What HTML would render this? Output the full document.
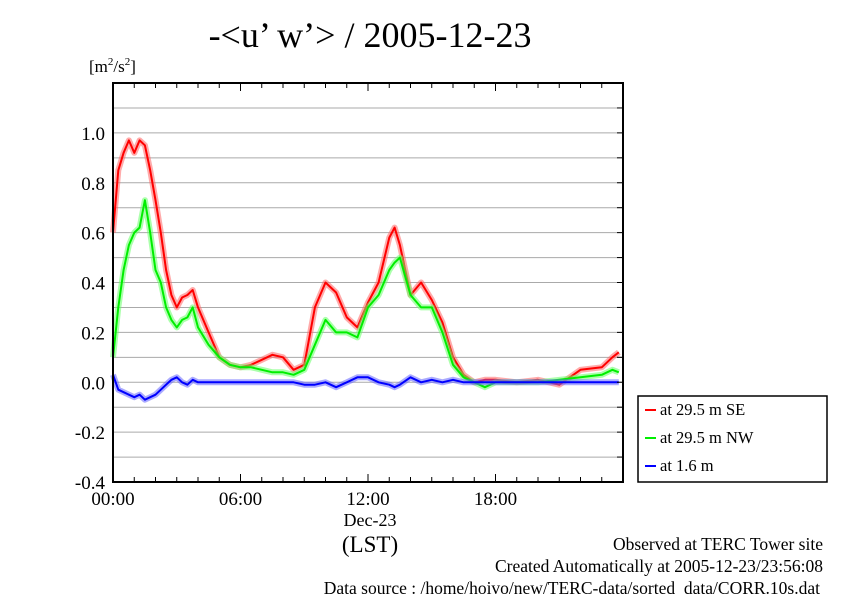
<!DOCTYPE html>
<html><head><meta charset="utf-8"><style>
body{margin:0;background:#fff;}
svg{display:block;font-family:"Liberation Serif",serif;}
</style></head><body>
<svg id="chart" width="842" height="595" viewBox="0 0 842 595">
<text x="370" y="47" font-size="36" text-anchor="middle">-&lt;u’ w’&gt; / 2005-12-23</text>
<text x="89" y="72" font-size="17">[m<tspan font-size="11" dy="-7">2</tspan><tspan dy="7">/s</tspan><tspan font-size="11" dy="-7">2</tspan><tspan dy="7">]</tspan></text>
<g id="grid"></g>
<g id="series"></g>
<g id="axes"></g>
<g>
<rect x="638" y="396" width="189" height="86" fill="#fff" stroke="#000" stroke-width="1.5"/>
<g><line x1="645" y1="410" x2="656" y2="410" stroke="#f00" stroke-width="2"/><text x="660" y="415" font-size="16.5">at 29.5 m SE</text></g>
<g><line x1="645" y1="438" x2="656" y2="438" stroke="#0e0" stroke-width="2"/><text x="660" y="443" font-size="16.5">at 29.5 m NW</text></g>
<g><line x1="645" y1="466" x2="656" y2="466" stroke="#00f" stroke-width="2"/><text x="660" y="471" font-size="16.5">at 1.6 m</text></g>
</g>
<text x="370" y="526" font-size="18" text-anchor="middle">Dec-23</text>
<text x="370" y="552" font-size="23" text-anchor="middle">(LST)</text>
<text x="823" y="550" font-size="17.5" text-anchor="end">Observed at TERC Tower site</text>
<text x="823" y="572" font-size="17.5" text-anchor="end">Created Automatically at 2005-12-23/23:56:08</text>
<text x="820" y="594" font-size="17.5" text-anchor="end">Data source : /home/hoivo/new/TERC-data/sorted_data/CORR.10s.dat</text>
</svg>
<script>
const hours=[0,0.25,0.5,0.75,1,1.25,1.5,1.75,2,2.25,2.5,2.75,3,3.25,3.5,3.75,4,4.5,5,5.5,6,6.5,7,7.5,8,8.5,9,9.5,10,10.5,11,11.5,12,12.5,13,13.25,13.5,14,14.5,15,15.5,16,16.5,17,17.5,18,19,20,21,22,23,23.5,23.8];
const seSeries=[0.6,0.85,0.92,0.97,0.92,0.97,0.95,0.85,0.73,0.6,0.45,0.35,0.3,0.34,0.35,0.37,0.3,0.2,0.1,0.07,0.06,0.07,0.09,0.11,0.1,0.05,0.07,0.3,0.4,0.36,0.26,0.22,0.32,0.4,0.58,0.62,0.55,0.35,0.4,0.33,0.24,0.1,0.03,0.0,0.01,0.01,0.0,0.01,-0.01,0.05,0.06,0.1,0.12];
const nwSeries=[0.1,0.3,0.45,0.55,0.6,0.62,0.73,0.6,0.45,0.4,0.3,0.25,0.22,0.25,0.26,0.3,0.22,0.15,0.1,0.07,0.06,0.06,0.05,0.04,0.04,0.03,0.05,0.15,0.25,0.2,0.2,0.18,0.3,0.35,0.45,0.48,0.5,0.35,0.3,0.3,0.2,0.07,0.02,0.0,-0.02,0.0,0.0,0.0,0.01,0.02,0.03,0.05,0.04];
const lowSeries=[0.03,-0.03,-0.04,-0.05,-0.06,-0.05,-0.07,-0.06,-0.05,-0.03,-0.01,0.01,0.02,0.0,-0.01,0.01,0.0,0.0,0.0,0.0,0.0,0.0,0.0,0.0,0.0,0.0,-0.01,-0.01,0.0,-0.02,0.0,0.02,0.02,0.0,-0.01,-0.02,-0.01,0.02,0.0,0.01,0.0,0.01,0.0,0.0,0.0,0.0,0.0,0.0,0.0,0.0,0.0,0.0,0.0];
const yTicks=[-0.4,-0.2,0.0,0.2,0.4,0.6,0.8,1.0];
const xTickLabels=["00:00","06:00","12:00","18:00"];
const X0=113,X1=623,Y0=482,Y1=83,YMIN=-0.4,YMAX=1.2;
const xs=h=>X0+(X1-X0)*h/24;
const ys=v=>Y0-(Y0-Y1)*(v-YMIN)/(YMAX-YMIN);
const NS="http://www.w3.org/2000/svg";
function mk(tag,attrs,parent){const e=document.createElementNS(NS,tag);for(const k in attrs)e.setAttribute(k,attrs[k]);parent.appendChild(e);return e;}
const grid=document.getElementById('grid'),axes=document.getElementById('axes'),series=document.getElementById('series');
for(let i=1;i<16;i++){const v=YMIN+i*0.1;const g=mk('line',{x1:X0,x2:X1,y1:ys(v),y2:ys(v),stroke:'#aaa','stroke-width':1},grid);

}
yTicks.forEach(v=>{const t=mk('text',{x:105,y:ys(v)+7,'font-size':19,'text-anchor':'end'},axes);t.textContent=v.toFixed(1);

});
for(let i=0;i<16;i++){const y=ys(YMIN+i*0.1);mk('line',{x1:X1,x2:X1-6,y1:y,y2:y,stroke:'#000'},axes);}
for(let h=0;h<=24;h++){const x=xs(h),len=h%6==0?8:5;mk('line',{x1:x,x2:x,y1:Y0,y2:Y0-len,stroke:'#000'},axes);mk('line',{x1:x,x2:x,y1:Y1,y2:Y1+len,stroke:'#000'},axes);}
xTickLabels.forEach((s,i)=>{const t=mk('text',{x:xs(i*6),y:505,'font-size':19,'text-anchor':'middle'},axes);t.textContent=s;

});
const frame=mk('rect',{x:X0,y:Y1,width:X1-X0,height:Y0-Y1,fill:'none',stroke:'#000','stroke-width':2},axes);


function draw(vals,color,halo,name){const d=vals.map((v,i)=>(i?'L':'M')+xs(hours[i]).toFixed(1)+','+ys(v).toFixed(1)).join('');
mk('path',{d:d,fill:'none',stroke:halo,'stroke-width':6,'stroke-linejoin':'round',opacity:0.55},series);
const p=mk('path',{d:d,fill:'none',stroke:color,'stroke-width':2,'stroke-linejoin':'round'},series);

}
draw(seSeries,'#f00','#f66','series-29-5m-se');
draw(nwSeries,'#0e0','#6f6','series-29-5m-nw');
draw(lowSeries,'#00f','#66f','series-1-6m');
</script>
</body></html>
